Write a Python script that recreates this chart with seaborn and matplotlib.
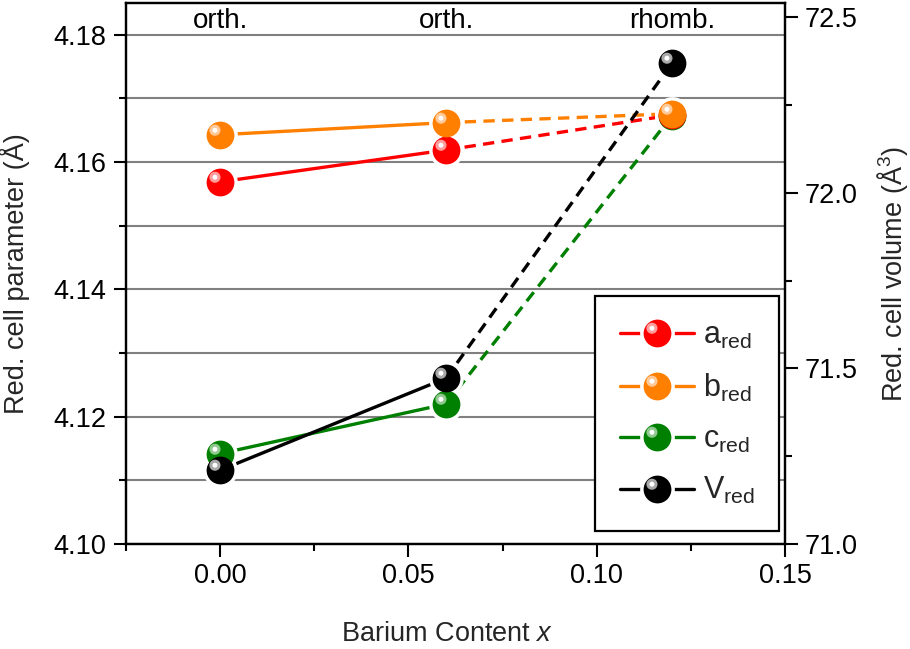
import numpy as np
import pandas as pd
import seaborn as sns
import matplotlib.pyplot as plt
from matplotlib.path import Path
from matplotlib.lines import Line2D
from matplotlib.legend_handler import HandlerTuple
from matplotlib.ticker import MultipleLocator, FormatStrFormatter

# data
barium_x = [0.00, 0.06, 0.12]
a_red = [4.1569, 4.1619, 4.1674]
b_red = [4.1643, 4.1662, 4.1676]
c_red = [4.1142, 4.1220, 4.1673]
v_red = [71.21, 71.472, 72.369]
phase_labels = ["orth.", "orth.", "rhomb."]

series_names = ["a$_{\\mathrm{red}}$", "b$_{\\mathrm{red}}$",
                "c$_{\\mathrm{red}}$", "V$_{\\mathrm{red}}$"]
series_colors = ["#ff0000", "#ff8000", "#008000", "#000000"]
glint_colors = ["#ff9c9c", "#ffc999", "#8fc98f", "#a8a8a8"]
# stacking of the symbols (c lies under a/b at x = 0.12, V on top)
draw_order = [2, 0, 1, 3]

sns.set_theme(style="ticks")
plt.rcParams["font.family"] = ["Liberation Sans", "DejaVu Sans"]
plt.rcParams["mathtext.fontset"] = "custom"
plt.rcParams["mathtext.rm"] = "Liberation Sans"
plt.rcParams["mathtext.it"] = "Liberation Sans:italic"

LW = 2.4
MS = 20
HALO = 25
FS = 19.5


def glint_path(cx, cy, r):
    # circle offset to the upper left, anchored so it scales with the marker
    anchors = Path([(-1, -1), (1, 1)], [Path.MOVETO, Path.MOVETO])
    return Path.make_compound_path(anchors, Path.circle(center=(cx, cy), radius=r))


glint_outer = glint_path(-0.4, 0.38, 0.4)
glint_inner = glint_path(-0.4, 0.38, 0.18)

fig = plt.figure(figsize=(9.1, 6.49), dpi=100)
ax = fig.add_axes([0.1385, 0.1618, 0.7242, 0.8336])
ax2 = ax.twinx()

ax.set_xlim(-0.025, 0.15)
ax.set_ylim(4.10, 4.185)
ax2.set_ylim(71.0, 72.54)

series_vals = [a_red, b_red, c_red, v_red]
transforms = [ax.transData] * 3 + [ax2.transData]

# connecting lines: solid within orth., dashed into rhomb.
for vals, col, tr in zip(series_vals, series_colors, transforms):
    sns.lineplot(x=barium_x[:2], y=vals[:2], ax=ax, color=col, lw=LW,
                 transform=tr, zorder=2)
    sns.lineplot(x=barium_x[1:], y=vals[1:], ax=ax, color=col, lw=LW,
                 linestyle=(0, (3.4, 2.2)), transform=tr, zorder=2)

# white halos give the gap between line and symbol
for vals, tr in zip(series_vals, transforms):
    ax.plot(barium_x, vals, ls="none", marker="o", ms=HALO, color="white",
            mew=0, transform=tr, zorder=2.5)

for rank, i in enumerate(draw_order):
    vals, col, gcol, tr = (series_vals[i], series_colors[i],
                           glint_colors[i], transforms[i])
    z = 3 + rank * 0.1
    ax.plot(barium_x, vals, ls="none", marker="o", ms=MS, color=col, mew=0,
            transform=tr, zorder=z)
    ax.plot(barium_x, vals, ls="none", marker=glint_outer, ms=MS, color=gcol,
            mew=0, transform=tr, zorder=z + 0.01)
    ax.plot(barium_x, vals, ls="none", marker=glint_inner, ms=MS, color="white",
            mew=0, transform=tr, zorder=z + 0.02)

handles = []
for col, gcol in zip(series_colors, glint_colors):
    handles.append((
        Line2D([], [], color=col, lw=LW),
        Line2D([], [], ls="none", marker="o", ms=HALO, color="white", mew=0),
        Line2D([], [], ls="none", marker="o", ms=MS, color=col, mew=0),
        Line2D([], [], ls="none", marker=glint_outer, ms=MS, color=gcol, mew=0),
        Line2D([], [], ls="none", marker=glint_inner, ms=MS, color="white", mew=0),
    ))

for xp, lab in zip(barium_x, phase_labels):
    ax.text(xp, 0.967, lab, transform=ax.get_xaxis_transform(), ha="center",
            va="center", fontsize=FS + 0.5, color="black")

# axes styling
ax.xaxis.set_major_locator(MultipleLocator(0.05))
ax.xaxis.set_minor_locator(MultipleLocator(0.025))
ax.xaxis.set_major_formatter(FormatStrFormatter("%.2f"))
ax.yaxis.set_major_locator(MultipleLocator(0.02))
ax.yaxis.set_minor_locator(MultipleLocator(0.01))
ax.yaxis.set_major_formatter(FormatStrFormatter("%.2f"))
ax2.yaxis.set_major_locator(MultipleLocator(0.5))
ax2.yaxis.set_minor_locator(MultipleLocator(0.25))
ax2.yaxis.set_major_formatter(FormatStrFormatter("%.1f"))

ax.set_axisbelow(True)
ax.yaxis.grid(True, which="both", color="#808080", lw=1.5)
ax.xaxis.grid(False)

for a in (ax, ax2):
    for sp in a.spines.values():
        sp.set_linewidth(1.6)
        sp.set_color("black")
    a.tick_params(which="major", direction="out", length=9, width=1.5,
                  labelsize=FS, color="black", labelcolor="black", pad=5)
    a.tick_params(which="minor", direction="out", length=5, width=1.5,
                  color="black")
ax.tick_params(axis="both", which="both", top=False, right=False)
ax2.tick_params(axis="y", which="both", left=False, right=True)

ax.set_xlabel("Barium Content $\\mathit{x}$", fontsize=FS)
ax.set_ylabel("Red. cell parameter (Å)", fontsize=FS)
ax2.set_ylabel("Red. cell volume (Å$^{3}$)", fontsize=FS)
ax.xaxis.set_label_coords(0.487, -0.143)
ax.yaxis.set_label_coords(-0.145, 0.5)
ax2.yaxis.set_label_coords(1.136, 0.5)

leg = ax.legend(handles, series_names,
                handler_map={tuple: HandlerTuple(ndivide=1, pad=0)},
                loc="upper left", bbox_to_anchor=(0.712, 0.458),
                borderaxespad=0, fontsize=22, handlelength=2.42,
                handletextpad=0.3, labelspacing=0.68, borderpad=0.8,
                frameon=True, fancybox=False, edgecolor="black",
                framealpha=1)
leg.get_frame().set_linewidth(1.6)
leg.set_zorder(10)

fig.savefig("out.png", dpi=100)
